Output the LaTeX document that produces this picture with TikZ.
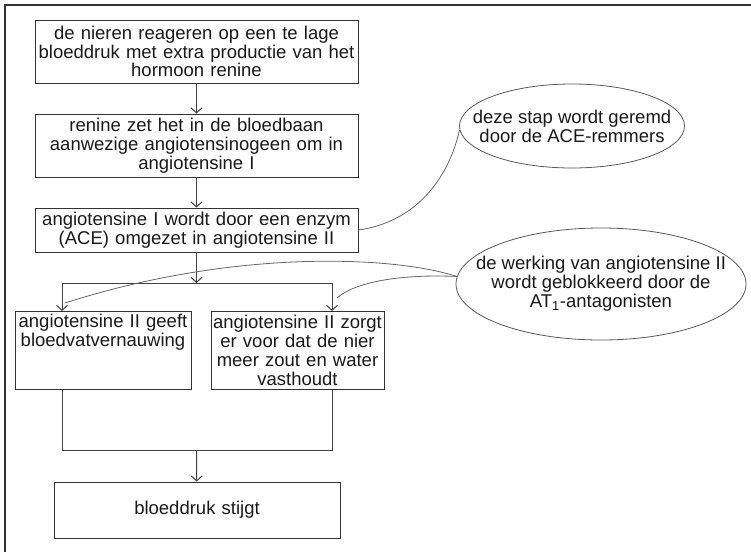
\documentclass[tikz,border=0pt]{standalone}
\usepackage{fontspec}
\setmainfont{Liberation Sans}
\usetikzlibrary{arrows.meta}
\usetikzlibrary{shapes.geometric}

\begin{document}
\begin{tikzpicture}[x=1pt, y=-1pt,
	box/.style = {draw=black!80, line width=0.9pt, align=center, inner sep=2pt, text=black!90, font=\fontsize{18.5}{18.8}\selectfont},
	note/.style = {draw=black!65, ellipse, line width=0.8pt, inner sep=0pt},
	notetext/.style = {align=center, inner sep=0pt, text=black!90, font=\fontsize{18.5}{18.8}\selectfont},
	flow/.style = {draw=black!75, line width=1pt},
	tip/.style = {-{Straight Barb[length=5pt,width=11pt]}},
	link/.style = {draw=black!60, line width=0.8pt}]
					\useasboundingbox (0,0) rectangle (751,552);
					\draw [black!80, line width=1.2pt] (751,5) -- (5,5) -- (5,552);
					\begin{scope}
						\node[box, text width=319pt, minimum height=63pt] (nieren) at (196.5,51.5) {de nieren reageren op een te lage\\ bloeddruk met extra productie van het\\ hormoon renine};
						\node[box, text width=319pt, minimum height=63pt] (renine) at (196.5,145.5) {renine zet het in de bloedbaan\\ aanwezige angiotensinogeen om in\\ angiotensine I};
						\node[box, text width=319pt, minimum height=44pt] (ace) at (196.5,230) {angiotensine I wordt door een enzym\\ (ACE) omgezet in angiotensine II};
						\node[box, anchor=north, text width=172pt, minimum height=78pt, text height=14pt, text depth=60pt] (vat) at (103,311) {angiotensine II geeft\\ bloedvatvernauwing};
						\node[box, anchor=north, text width=169pt, minimum height=78pt] (zout) at (297.5,311) {angiotensine II zorgt\\ er voor dat de nier\\ meer zout en water\\ vasthoudt};
						\node[box, text width=282pt, minimum height=56pt] (stijgt) at (197,510) {bloeddruk stijgt};
						\node[note, minimum width=225pt, minimum height=84pt] (remmers) at (572,126) {};
						\node[notetext] (remmerstext) at (remmers) {deze stap wordt geremd\\ door de ACE-remmers};
						\node[note, minimum width=290pt, minimum height=112pt] (antag) at (601,284) {};
						\node[notetext] (antagtext) at (antag) {de werking van angiotensine II\\ wordt geblokkeerd door de\\ AT\textsubscript{1}-antagonisten};
					\end{scope}
					\coordinate (split) at (196.5,283);
					\coordinate (splitL) at (62,283);
					\coordinate (splitR) at (332,283);
					\coordinate (merge) at (196.5,450);
					\coordinate (mergeL) at (62,450);
					\coordinate (mergeR) at (332,450);
					\coordinate (endL) at (65,303);
					\coordinate (endR) at (337,298);
					\draw [flow,tip] (nieren) -- (renine);
					\draw [flow,tip] (renine) -- (ace);
					\draw [flow,tip] (ace) -- (split);
					\draw [flow] (splitL) -- (splitR);
					\draw [flow,tip] (splitL) -- (splitL |- vat.north);
					\draw [flow,tip] (splitR) -- (splitR |- zout.north);
					\draw [flow] (vat.south -| mergeL) -- (mergeL) -- (mergeR) -- (zout.south -| mergeR);
					\draw [flow,tip] (merge) -- (stijgt);
					\draw [link] (ace.east) .. controls (415,222) and (448,180) .. (remmers.182);
					\draw [link] (antag.177.5) .. controls (390,255) and (230,250) .. (endL);
					\draw [link] (antag.177.5) .. controls (400,274) and (355,282) .. (endR);
				\end{tikzpicture}
\end{document}
